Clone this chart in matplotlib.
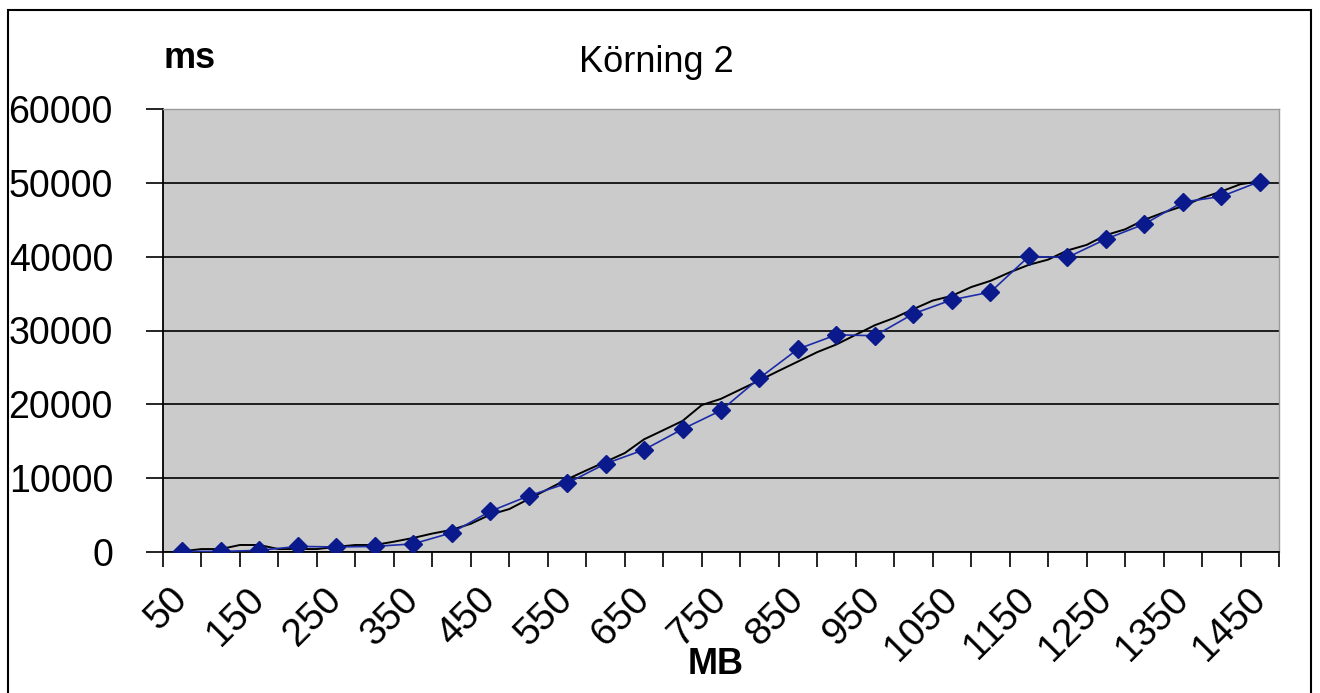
import numpy as np
from matplotlib import pyplot as plt
from matplotlib.patches import Rectangle

plt.rcParams['font.family'] = ['Liberation Sans', 'DejaVu Sans']

# Körning 2: uppmätt tid (ms) per filstorlek (MB)
mb = list(range(50, 1451, 50))
ms_run = [80, 80, 220, 760, 680, 760, 1100, 2600, 5500, 7600, 9300, 11960,
          13850, 16650, 19170, 23560, 27490, 29420, 29290, 32270, 34160,
          35200, 40030, 39890, 42380, 44410, 47390, 48150, 50180]

# svart linje, tätare punkter (var 25:e MB)
mb_fine = list(range(50, 1451, 25))
ms_trend = [100, 400, 400, 950, 950, 400, 400, 400, 700, 950, 950, 1400,
            1900, 2500, 3000, 3830, 5050, 5820, 7170, 8510, 9850, 11050,
            12220, 13400, 15260, 16500, 17750, 19900, 20750, 22000, 23250,
            24540, 25800, 27070, 28110, 29420, 30720, 31700, 32900, 34050,
            34700, 35880, 36720, 37870, 38900, 39600, 40840, 41590, 42920,
            43700, 44990, 45980, 46840, 47950, 48830, 49820, 50200]

y_ticks = [0, 10000, 20000, 30000, 40000, 50000, 60000]
x_labels = mb[::2]

fig = plt.figure(figsize=(13.2, 6.93), dpi=100)
ax = fig.add_axes([163 / 1320, 1 - 552 / 693, (1279 - 163) / 1320, (552 - 109) / 693])
ax.set_facecolor('#cbcbcb')

ax.plot(mb_fine, ms_trend, color='black', lw=1.4, zorder=3)
ax.plot(mb, ms_run, color='#1c2ca8', lw=1.2, marker='D', markersize=9,
        markerfacecolor='#0a1a8c', markeredgecolor='#0a1a8c', zorder=4)

ax.set_xlim(25, 1475)
ax.set_ylim(0, 60000)
ax.set_yticks(y_ticks)
ax.set_yticklabels([str(v) for v in y_ticks], fontsize=27)
ax.yaxis.grid(True, color='black', lw=1.2)
ax.set_axisbelow(True)

ax.set_xticks(x_labels)
ax.set_xticklabels([str(v) for v in x_labels], fontsize=28, rotation=45,
                   ha='right', va='center', rotation_mode='anchor')
ax.set_xticks(np.arange(25, 1476, 50), minor=True)
ax.tick_params(axis='x', which='major', length=0, pad=30)
ax.tick_params(axis='x', which='minor', length=11, width=1.2, direction='out')
ax.tick_params(axis='y', length=12, width=1.2, pad=24)

for s in ['top', 'right']:
    ax.spines[s].set_color('#9a9a9a')
    ax.spines[s].set_linewidth(1)
for s in ['left', 'bottom']:
    ax.spines[s].set_color('black')
    ax.spines[s].set_linewidth(1.3)

fig.text(656 / 1320, 1 - 62 / 693, 'Körning 2', fontsize=26, ha='center', va='center')
fig.text(190 / 1320, 1 - 58 / 693, 'ms', fontsize=26, fontweight='bold', ha='center', va='center')
fig.text(716 / 1320, 1 - 665 / 693, 'MB', fontsize=26, fontweight='bold', ha='center', va='center')

fig.patches.append(Rectangle((8 / 1320, -0.05), (1311 - 8) / 1320, 1.05 - 10 / 693,
                             transform=fig.transFigure, fill=False,
                             edgecolor='black', lw=1.5))

fig.savefig('out.png', dpi=100, facecolor='white')
